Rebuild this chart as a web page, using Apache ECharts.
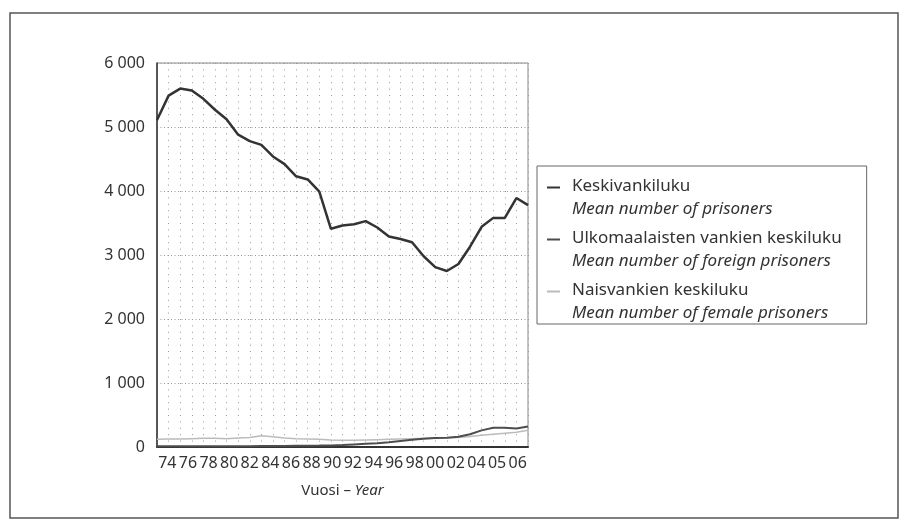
<!DOCTYPE html>
<html>
<head>
<meta charset="utf-8">
<script src="https://cdn.jsdelivr.net/npm/echarts@6/dist/echarts.min.js"></script>
<style>
    html, body { margin: 0; padding: 0; background: #fff; }
    #chart { width: 911px; height: 529px; }
</style>
</head>
<body>
<div id="chart"></div>
<script>
// vuodet 1974-2006
const years = ['74','75','76','77','78','79','80','81','82','83','84','85','86','87','88','89',
    '90','91','92','93','94','95','96','97','98','99','00','01','02','03','04','05','06'];

// x-akselin tekstit
const tickLabels = ['74','76','78','80','82','84','86','88','90','92','94','96','98','00','02','04','05','06'];

const prisoners = [5110, 5490, 5600, 5570, 5440, 5270, 5120, 4880, 4780, 4720, 4540, 4420, 4230,
    4180, 3990, 3410, 3460, 3480, 3530, 3430, 3290, 3250, 3200, 2980, 2810, 2750, 2860, 3130,
    3440, 3580, 3580, 3890, 3780];

const foreignPrisoners = [10, 10, 10, 10, 10, 10, 10, 12, 12, 14, 15, 15, 18, 20, 22, 25,
    30, 40, 50, 60, 75, 95, 115, 130, 140, 145, 160, 200, 260, 300, 300, 290, 320];

const femalePrisoners = [120, 125, 125, 130, 135, 135, 130, 140, 150, 175, 160, 140, 130,
    125, 120, 110, 105, 105, 110, 115, 120, 125, 130, 135, 140, 145, 150, 165, 185, 200,
    215, 230, 260];

const seriesNames = ['Keskivankiluku', 'Ulkomaalaisten vankien keskiluku', 'Naisvankien keskiluku'];
const seriesNamesEn = ['Mean number of prisoners', 'Mean number of foreign prisoners', 'Mean number of female prisoners'];

const FONT = "'Noto Sans', 'Open Sans', sans-serif";

// legend icon: viiva ylärivin kohdalla, tyhjää oikealle ja alas
const legendIcon = 'path://M0,0L13,0L13,2L0,2Z M0,23L0.01,23Z M20,0L20.01,0Z';

const myChart = echarts.init(document.getElementById('chart'));

let option = {
    backgroundColor: '#fff',
    animation: false,
    textStyle: { fontFamily: FONT },
    graphic: [
        {
            type: 'rect',
            shape: { x: 10, y: 13, width: 888, height: 505 },
            style: { fill: 'none', stroke: '#555', lineWidth: 1.5 }
        }
    ],
    grid: {
        left: 157,
        top: 63,
        right: 383,
        bottom: 82,
        show: true,
        borderColor: '#888',
        borderWidth: 1
    },
    legend: {
        orient: 'vertical',
        left: 537,
        top: 166,
        padding: [12, 25, 2, 10],
        borderColor: '#666',
        borderWidth: 1,
        itemWidth: 20,
        itemHeight: 23,
        itemGap: 12,
        icon: legendIcon,
        itemStyle: { borderWidth: 0 },
        data: seriesNames,
        formatter: function (name) {
            const i = seriesNames.indexOf(name);
            return '{a|' + name + '}\n{b|' + seriesNamesEn[i] + '}';
        },
        textStyle: {
            color: '#333',
            rich: {
                a: { fontSize: 17, lineHeight: 23, fontFamily: FONT, color: '#333' },
                b: { fontSize: 17, lineHeight: 23, fontFamily: FONT, fontStyle: 'italic', color: '#333' }
            }
        }
    },
    xAxis: [
        {
            type: 'category',
            boundaryGap: false,
            data: years,
            axisLine: { lineStyle: { color: '#333', width: 2 } },
            axisTick: { show: false },
            axisLabel: { show: false },
            splitLine: {
                show: true,
                interval: 0,
                lineStyle: { color: '#999', width: 1, type: [1, 5.4] }
            }
        },
        {
            type: 'category',
            position: 'bottom',
            boundaryGap: true,
            data: tickLabels,
            axisLine: { show: false },
            axisTick: { show: false },
            splitLine: { show: false },
            axisLabel: {
                interval: 0,
                margin: 8,
                color: '#333',
                fontSize: 16,
                fontFamily: FONT
            },
            name: '{a|Vuosi – }{b|Year}',
            nameLocation: 'middle',
            nameGap: 36,
            nameTextStyle: {
                rich: {
                    a: { fontSize: 15, fontFamily: FONT, color: '#333' },
                    b: { fontSize: 15, fontFamily: FONT, fontStyle: 'italic', color: '#333' }
                }
            }
        }
    ],
    yAxis: [
        {
            type: 'value',
            min: 0,
            max: 6000,
            interval: 1000,
            axisLine: { show: true, lineStyle: { color: '#333', width: 1.5 } },
            axisTick: { show: false },
            axisLabel: {
                margin: 12,
                color: '#333',
                fontSize: 16,
                fontFamily: FONT,
                formatter: function (v) {
                    return String(v).replace(/\B(?=(\d{3})+(?!\d))/g, ' ');
                }
            },
            splitLine: {
                show: true,
                lineStyle: { color: '#999', width: 1, type: [1, 2.5] }
            }
        }
    ],
    series: [
        {
            name: seriesNames[0],
            type: 'line',
            xAxisIndex: 0,
            symbol: 'none',
            data: prisoners,
            itemStyle: { color: '#333' },
            lineStyle: { color: '#333', width: 2.5 },
            z: 5
        },
        {
            name: seriesNames[1],
            type: 'line',
            xAxisIndex: 0,
            symbol: 'none',
            data: foreignPrisoners,
            itemStyle: { color: '#4d4d4d' },
            lineStyle: { color: '#4d4d4d', width: 2 },
            z: 4
        },
        {
            name: seriesNames[2],
            type: 'line',
            xAxisIndex: 0,
            symbol: 'none',
            data: femalePrisoners,
            itemStyle: { color: '#bbb' },
            lineStyle: { color: '#bbb', width: 1.5 },
            z: 3
        }
    ]
};

myChart.setOption(option, true);
</script>
</body>
</html>
